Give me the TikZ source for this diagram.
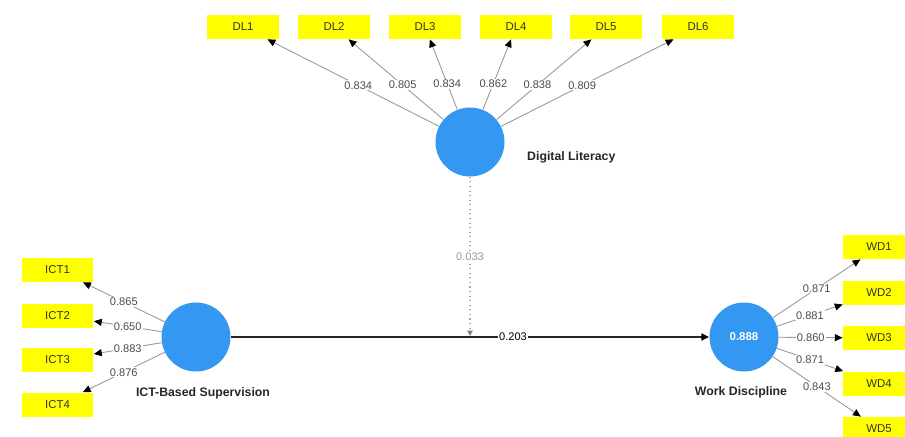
\documentclass[tikz,border=0pt]{standalone}
\usepackage{fontspec}
\setmainfont{Liberation Sans}
\usetikzlibrary{arrows.meta}
\definecolor{plsblue}{RGB}{52,152,242}
\definecolor{plsyellow}{RGB}{255,255,0}
\begin{document}
\begin{tikzpicture}[x=0.02cm,y=-0.02cm,>={Triangle[length=4.5pt,width=4pt,color=black]},
  ind/.style={fill=plsyellow,minimum width=1.44cm,minimum height=0.48cm,inner sep=0pt,font=\fontsize{6.5}{7}\selectfont,text=black!80},
  lv/.style={circle,fill=plsblue,minimum size=1.38cm,inner sep=0pt},
  ldg/.style={->,draw=gray!80,line width=0.5pt},
  val/.style={fill=white,inner sep=0.6pt,font=\fontsize{6.3}{7}\selectfont,text=black!70},
  nm/.style={font=\bfseries\fontsize{7}{8}\selectfont,text=black!85}]
\useasboundingbox (0,0) rectangle (905,436);
% latent variables
\node[lv] (dl) at (470,142) {};
\node[lv] (ict) at (196,337) {};
\node[lv,font=\bfseries\fontsize{6.5}{7}\selectfont,text=white] (wd) at (744,337) {0.888};
\node[nm,anchor=west] (dlname) at (521,157) {Digital Literacy};
\node[nm] (ictname) at (203,393) {ICT-Based Supervision};
\node[nm] (wdname) at (741,392) {Work Discipline};
% indicators
\node[ind] (dl1) at (243,27) {DL1};
\node[ind] (dl2) at (334,27) {DL2};
\node[ind] (dl3) at (425,27) {DL3};
\node[ind] (dl4) at (516,27) {DL4};
\node[ind] (dl5) at (606,27) {DL5};
\node[ind] (dl6) at (698,27) {DL6};
\node[ind] (ict1) at (57.5,270) {ICT1};
\node[ind] (ict2) at (57.5,315.5) {ICT2};
\node[ind] (ict3) at (57.5,360) {ICT3};
\node[ind] (ict4) at (57.5,404.5) {ICT4};
\node[ind] (wd1) at (879,247) {WD1};
\node[ind] (wd2) at (879,292.5) {WD2};
\node[ind] (wd3) at (879,338) {WD3};
\node[ind] (wd4) at (879,383.5) {WD4};
\node[ind] (wd5) at (879,429) {WD5};
% outer loadings
\draw[ldg] (dl) -- node[val,pos=0.47] {0.834} (dl1);
\draw[ldg] (dl) -- node[val,pos=0.43] {0.805} (dl2);
\draw[ldg] (dl) -- node[val,pos=0.37] {0.834} (dl3);
\draw[ldg] (dl) -- node[val,pos=0.37] {0.862} (dl4);
\draw[ldg] (dl) -- node[val,pos=0.43] {0.838} (dl5);
\draw[ldg] (dl) -- node[val,pos=0.47] {0.809} (dl6);
\draw[ldg] (ict) -- node[val] {0.865} (ict1);
\draw[ldg] (ict) -- node[val] {0.650} (ict2);
\draw[ldg] (ict) -- node[val] {0.883} (ict3);
\draw[ldg] (ict) -- node[val] {0.876} (ict4);
\draw[ldg] (wd) -- node[val] {0.871} (wd1);
\draw[ldg] (wd) -- node[val] {0.881} (wd2);
\draw[ldg] (wd) -- node[val] {0.860} (wd3);
\draw[ldg] (wd) -- node[val] {0.871} (wd4);
\draw[ldg] (wd) -- node[val] {0.843} (wd5);
% paths
\draw[->,line width=1.1pt,black!85] (ict) -- node[val,pos=0.59,text=black] {0.203} (wd);
\coordinate (mod) at (470,336);
\draw[dotted,gray!70,line width=0.6pt,-{Triangle[length=3pt,width=3pt,color=gray]}] (dl) -- node[val,text=gray!80] {0.033} (mod);
\end{tikzpicture}
\end{document}
